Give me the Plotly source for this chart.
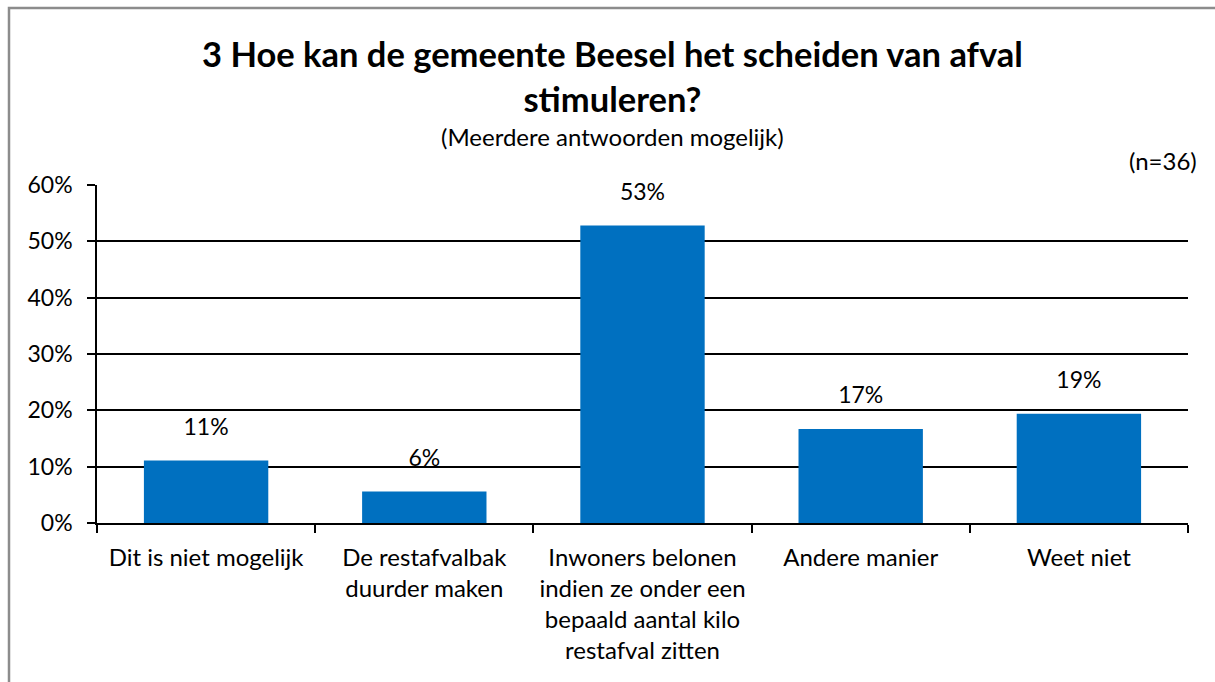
import plotly.graph_objects as go

categories = [
    "Dit is niet mogelijk",
    "De restafvalbak<br>duurder maken",
    "Inwoners belonen<br>indien ze onder een<br>bepaald aantal kilo<br>restafval zitten",
    "Andere manier",
    "Weet niet",
]
values = [0.111, 0.056, 0.528, 0.167, 0.194]
y_ticks = [0, 0.1, 0.2, 0.3, 0.4, 0.5, 0.6]
y_tick_labels = ["0%", "10%", "20%", "30%", "40%", "50%", "60%"]

FONT = "Lato"
W, H = 1215, 682
ml, mr, mt, mb = 97, 27, 185, 159
pw, ph = W - ml - mr, H - mt - mb


def px_x(x):
    return (x - ml) / pw


def px_y(y):
    return (H - y - mb) / ph


fig = go.Figure()
fig.add_trace(
    go.Bar(
        x=categories,
        y=values,
        marker=dict(color="#0070C0", line=dict(width=0)),
        hoverinfo="skip",
    )
)
# value labels above the bars
fig.add_trace(
    go.Scatter(
        x=categories,
        y=values,
        mode="markers+text",
        marker=dict(size=30, opacity=0),
        texttemplate="%{y:.0%}",
        textposition="top center",
        textfont=dict(family=FONT, size=23, color="#000000"),
        cliponaxis=False,
        hoverinfo="skip",
    )
)

fig.update_layout(
    width=W,
    height=H,
    margin=dict(l=ml, r=mr, t=mt, b=mb),
    paper_bgcolor="white",
    plot_bgcolor="white",
    bargap=0.43,
    showlegend=False,
    font=dict(family=FONT, color="#000000"),
)

fig.update_xaxes(
    showline=True,
    linecolor="#000000",
    linewidth=1.5,
    ticks="outside",
    tickson="boundaries",
    ticklen=8,
    tickcolor="#000000",
    tickwidth=1.5,
    ticklabelstandoff=12,
    tickfont=dict(family=FONT, size=24, color="#000000"),
    showgrid=False,
)
fig.update_yaxes(
    range=[0, 0.6],
    tickvals=y_ticks,
    ticktext=y_tick_labels,
    showline=True,
    linecolor="#000000",
    linewidth=1.5,
    ticks="outside",
    ticklen=8,
    tickcolor="#000000",
    tickwidth=1.5,
    ticklabelstandoff=10,
    showgrid=True,
    gridcolor="#000000",
    gridwidth=1.5,
    zeroline=False,
    tickfont=dict(family=FONT, size=23, color="#000000"),
)

# chart frame border
fig.add_shape(
    type="rect", xref="paper", yref="paper",
    x0=px_x(9), x1=px_x(W + 20),
    y0=px_y(H + 20), y1=px_y(8),
    line=dict(color="#8c8c8c", width=2.5), fillcolor="rgba(0,0,0,0)", layer="below",
)

fig.add_annotation(
    text="<b>3 Hoe kan de gemeente Beesel het scheiden van afval<br>stimuleren?</b>",
    xref="paper", yref="paper",
    x=px_x(612), y=px_y(76),
    xanchor="center", yanchor="middle", showarrow=False,
    font=dict(family=FONT, size=34.5, color="#000000"),
)
fig.add_annotation(
    text="(Meerdere antwoorden mogelijk)",
    xref="paper", yref="paper",
    x=px_x(612), y=px_y(137),
    xanchor="center", yanchor="middle", showarrow=False,
    font=dict(family=FONT, size=24, color="#000000"),
)
fig.add_annotation(
    text="(n=36)",
    xref="paper", yref="paper",
    x=px_x(1199), y=px_y(160),
    xanchor="right", yanchor="middle", showarrow=False,
    font=dict(family=FONT, size=24, color="#000000"),
)

fig.write_html("out.html")
